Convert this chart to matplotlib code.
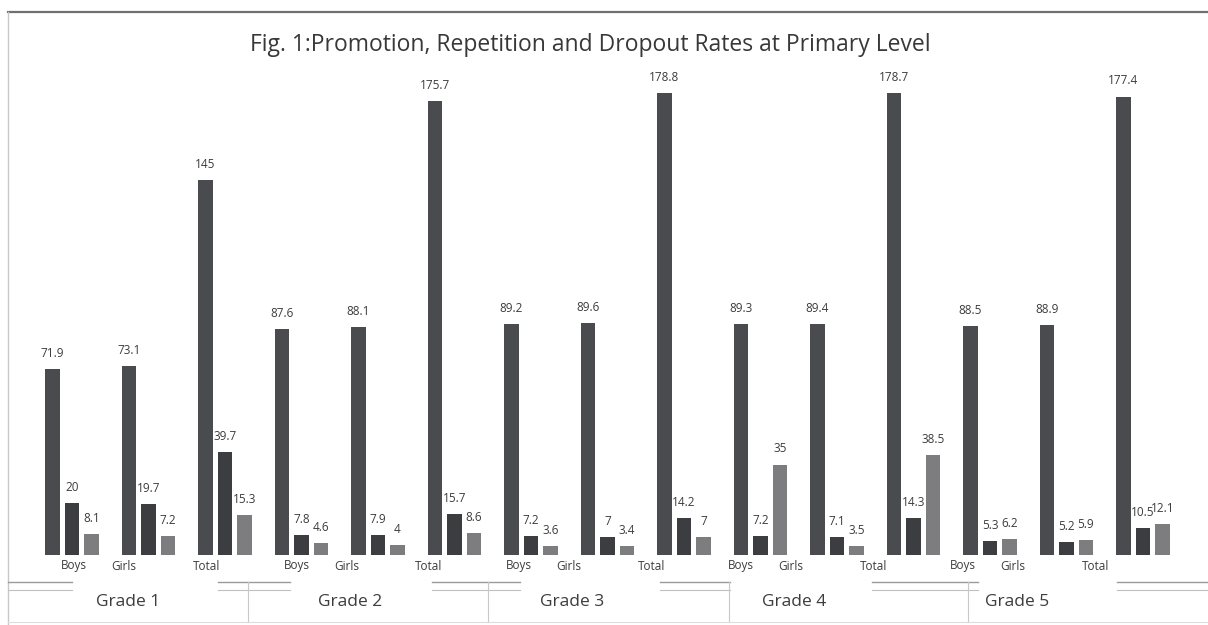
import matplotlib.pyplot as plt
import numpy as np
from matplotlib.lines import Line2D
from matplotlib.transforms import blended_transform_factory

# Data (grade x Boys/Girls/Total)
grades = ['Grade 1', 'Grade 2', 'Grade 3', 'Grade 4', 'Grade 5']
sexes = ['Boys', 'Girls', 'Total']
promotion = [71.9, 73.1, 145, 87.6, 88.1, 175.7, 89.2, 89.6, 178.8, 89.3, 89.4, 178.7, 88.5, 88.9, 177.4]
repetition = [20, 19.7, 39.7, 7.8, 7.9, 15.7, 7.2, 7, 14.2, 7.2, 7.1, 14.3, 5.3, 5.2, 10.5]
dropout = [8.1, 7.2, 15.3, 4.6, 4, 8.6, 3.6, 3.4, 7, 35, 3.5, 38.5, 6.2, 5.9, 12.1]

W, H = 1208, 625
fig = plt.figure(figsize=(W / 100, H / 100), dpi=100)
plt.rcParams['font.family'] = ['Open Sans', 'DejaVu Sans']

# axes: baseline at y=555px, left edge at x=8px
ax = fig.add_axes([8 / W, (H - 555) / H, 1 - 8 / W, 535 / H])
x = np.arange(len(promotion))
bw = 0.19
off = 0.255
series = [(promotion, -off, '#4a4b4f'),
          (repetition, 0, '#3c3d41'),
          (dropout, off, '#7d7d80')]
for vals, dx, col in series:
    bars = ax.bar(x + dx, vals, width=bw, color=col, zorder=2)
    for b, v in zip(bars, vals):
        ax.text(b.get_x() + b.get_width() / 2, v + 3.5, f'{v:g}',
                ha='center', va='bottom', fontsize=8.5, color='#3c3c3c')

ax.set_xlim(-0.837, 14.85)
ax.set_ylim(0, 207)
ax.axis('off')

# category labels (offset from the bar groups like in the original)
tr = blended_transform_factory(ax.transData, fig.transFigure)
step = 2.905
sex_off = [0.03, 0.68, 1.76]
for g, grade in enumerate(grades):
    for s, sex in enumerate(sexes):
        ax.text(g * step + sex_off[s], 1 - 566 / H, sex, transform=tr,
                ha='center', va='center', fontsize=8.5, color='#3c3c3c')
    ax.text(g * step + sex_off[1] + 0.05, 1 - 602 / H, grade, transform=tr,
            ha='center', va='center', fontsize=12.5, color='#3c3c3c')

fig.text(590 / W, 1 - 45 / H,
         'Fig. 1:Promotion, Repetition and Dropout Rates at Primary Level',
         ha='center', va='center', fontsize=16.5, color='#383838')

# frame and table lines
def fline(x0, x1, y0, y1, col, lw):
    fig.add_artist(Line2D([x0 / W, x1 / W], [1 - y0 / H, 1 - y1 / H],
                          color=col, lw=lw, transform=fig.transFigure))

fline(8, 1208, 12, 12, '#707070', 1.6)
fline(8, 8, 12, 625, '#c8c8c8', 1.0)
for a, b in [(8, 72), (218, 290), (432, 520), (660, 730), (872, 978), (1117, 1208)]:
    fline(a, b, 582, 582, '#9a9a9a', 1.0)
    fline(a, b, 590, 590, '#c0c0c0', 0.8)
for xv in [248, 488, 729, 968]:
    fline(xv, xv, 582, 622, '#c8c8c8', 0.8)
fline(8, 1208, 622, 622, '#dddddd', 0.8)

fig.savefig('out.png', dpi=100)
